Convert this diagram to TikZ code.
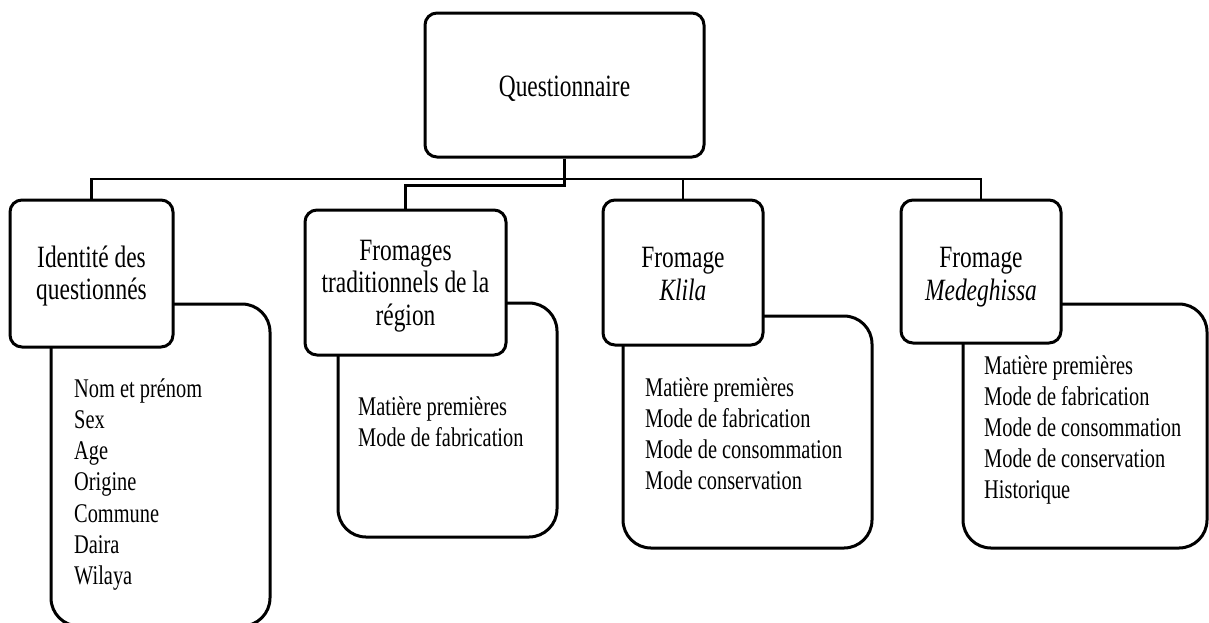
\documentclass[tikz,border=0pt]{standalone}
\usepackage{fontspec}
\setmainfont{Liberation Serif}[FakeStretch=0.755]
\begin{document}
\begin{tikzpicture}[x=1pt,y=-1pt,
  headbox/.style={draw,fill=white,line width=3pt,rounded corners=12pt,inner sep=0pt},
  listbox/.style={draw,fill=white,line width=3pt,rounded corners=28pt,inner sep=0pt},
  conn/.style={draw,line width=2.6pt},
  headtext/.style={font=\fontsize{31}{33}\selectfont,inner sep=0pt,anchor=base},
  itemtext/.style={font=\fontsize{27}{31.3}\selectfont,inner sep=0pt,anchor=base west}]
\useasboundingbox (0,0) rectangle (1209,622);

% detail boxes, drawn first so the title boxes sit on top of them
\node[listbox,minimum width=219pt,minimum height=322pt] (idL) at (160.5,465) {};
\node[listbox,minimum width=219pt,minimum height=234pt] (frL) at (447.5,420) {};
\node[listbox,minimum width=249pt,minimum height=232pt] (klL) at (747.5,432) {};
\node[listbox,minimum width=244pt,minimum height=244pt] (mdL) at (1085,426) {};

% title boxes
\node[headbox,minimum width=279pt,minimum height=144pt] (q)  at (564.5,85) {};
\node[headbox,minimum width=163pt,minimum height=147pt] (id) at (91.5,273.5) {};
\node[headbox,minimum width=201pt,minimum height=145pt] (fr) at (405.5,282.5) {};
\node[headbox,minimum width=160pt,minimum height=145pt] (kl) at (683,272.5) {};
\node[headbox,minimum width=160pt,minimum height=143pt] (md) at (981,271.5) {};

% tree connectors
\coordinate (bar) at (0,179);
\draw[conn] (q.south) -- (q.south |- bar);
\draw[conn] (id.north) -- (id.north |- bar) -- (md.north |- bar) -- (md.north);
\draw[conn] (kl.north) -- (kl.north |- bar);
\draw[conn] (q.south) -- ++(0,27) -| (fr.north);

% titles
\node[headtext] (qT) at (564.5,96) {Questionnaire};
\node[headtext] (idT1) at (91.5,267) {Identité des};
\node[headtext] (idT2) at (91.5,299) {questionnés};
\node[headtext] (frT1) at (405.5,260) {Fromages};
\node[headtext] (frT2) at (405.5,292) {traditionnels de la};
\node[headtext] (frT3) at (405.5,325) {région};
\node[headtext] (klT1) at (683,267) {Fromage};
\node[headtext] (klT2) at (683,300) {\itshape Klila};
\node[headtext] (mdT1) at (981,267) {Fromage};
\node[headtext] (mdT2) at (981,300) {\itshape Medeghissa};

% item lists
\foreach \t [count=\i] in {Nom et prénom,Sex,Age,Origine,Commune,Daira,Wilaya}
  \node[itemtext] (idI\i) at (74,{397+31.3*(\i-1)}) {\t};
\foreach \t [count=\i] in {Matière premières,Mode de fabrication}
  \node[itemtext] (frI\i) at (358,{415+31*(\i-1)}) {\t};
\foreach \t [count=\i] in {Matière premières,Mode de fabrication,Mode de consommation,Mode conservation}
  \node[itemtext] (klI\i) at (645,{396+31*(\i-1)}) {\t};
\foreach \t [count=\i] in {Matière premières,Mode de fabrication,Mode de consommation,Mode de conservation,Historique}
  \node[itemtext] (mdI\i) at (984,{374+31*(\i-1)}) {\t};
\end{tikzpicture}
\end{document}
